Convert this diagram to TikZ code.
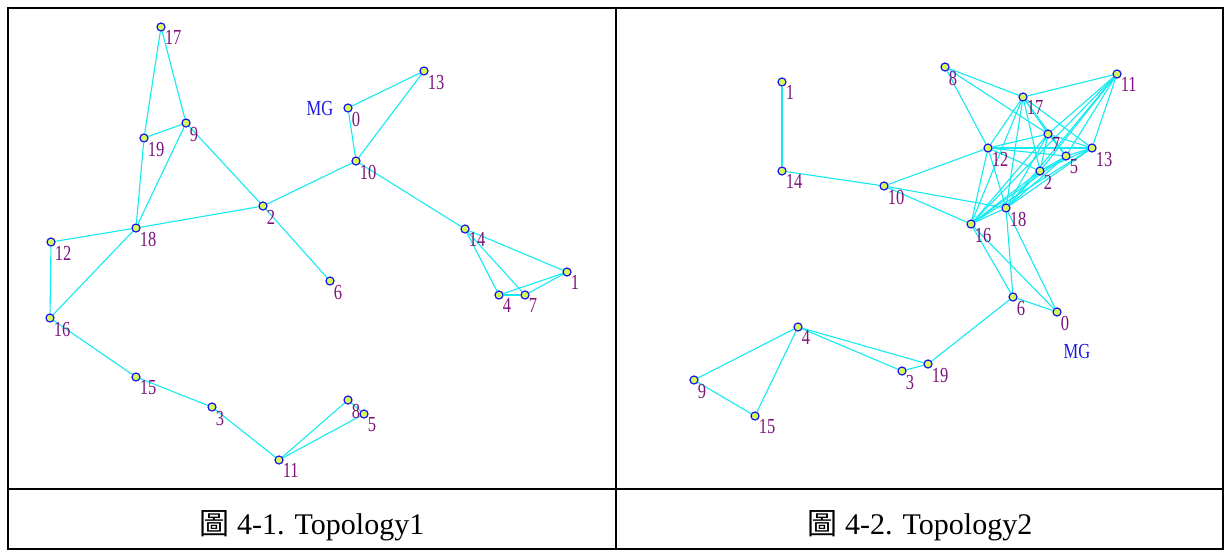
\documentclass[tikz,border=0pt]{standalone}
\usepackage{fontspec}
\setmainfont{Liberation Serif}
\newfontfamily\cjkfont{Noto Sans CJK TC}
\usetikzlibrary{backgrounds}
\definecolor{edgecyan}{RGB}{20,235,240}
\definecolor{moteblue}{RGB}{20,20,240}
\definecolor{motefill}{RGB}{215,250,90}
\definecolor{lblpurple}{RGB}{125,20,125}
\definecolor{mgblue}{RGB}{25,25,225}
\newcommand\nlab[1]{\scalebox{1}[1.3]{#1}}
\tikzset{
  edge/.style={draw=edgecyan, line width=1.1pt},
  mote/.style={circle, draw=moteblue, fill=motefill, line width=1.2pt, minimum size=8pt, inner sep=0pt},
  lbl/.style={text=lblpurple, font=\fontsize{16.5}{16.5}\selectfont, inner sep=0pt, label distance=0.5pt},
  mglbl/.style={text=mgblue, font=\fontsize{16.5}{16.5}\selectfont, inner sep=0pt},
  caption/.style={font=\fontsize{30}{30}\selectfont, inner sep=0pt, anchor=base},
  frame/.style={draw=black, line width=2pt},
}
\newcommand\mote[4]{\node[mote, label={[lbl]below right:\nlab{#4}}] (#1) at (#2,#3) {};}
\begin{document}
\begin{tikzpicture}[x=1pt,y=-1pt]
\useasboundingbox (0,0) rectangle (1230,558);
\begin{scope}[on background layer]
\fill[white] (0,0) rectangle (1230,558);
\end{scope}
% table frame
\draw[frame] (8,8) rectangle (1223,549);
\draw[frame] (616,8) -- (616,549);
\draw[frame] (8,489) -- (1223,489);
% ---------------- Topology 1 ----------------
\mote{L0}{348}{108}{0}
\mote{L1}{567}{272}{1}
\mote{L2}{263}{206}{2}
\mote{L3}{212}{407}{3}
\mote{L4}{499}{295}{4}
\mote{L5}{364}{414}{5}
\mote{L6}{330}{281}{6}
\mote{L7}{525}{295}{7}
\mote{L8}{348}{400}{8}
\mote{L9}{186}{123}{9}
\mote{L10}{356}{161}{10}
\mote{L11}{279}{460}{11}
\mote{L12}{51}{242}{12}
\mote{L13}{424}{71}{13}
\mote{L14}{465}{229}{14}
\mote{L15}{136}{377}{15}
\mote{L16}{50}{318}{16}
\mote{L17}{161}{27}{17}
\mote{L18}{136}{228}{18}
\mote{L19}{144}{138}{19}
\node[mglbl] (LMG) at (320,108) {\nlab{MG}};
\begin{scope}[on background layer]
\foreach \a/\b in {17/19,17/9,19/9,19/18,9/18,9/2,18/2,18/12,18/16,12/16,2/10,2/6,
  10/0,10/13,0/13,10/14,14/1,14/4,14/7,4/7,4/1,7/1,16/15,15/3,3/11,11/8,11/5,8/5}
  \draw[edge] (L\a) -- (L\b);
\end{scope}
\node[caption] (C1) at (312,534) {{\cjkfont 圖} 4-1. Topology1};
% ---------------- Topology 2 ----------------
\mote{R0}{1057}{312}{0}
\mote{R1}{782}{82}{1}
\mote{R2}{1040}{171}{2}
\mote{R3}{902}{371}{3}
\mote{R4}{798}{327}{4}
\mote{R5}{1066}{156}{5}
\mote{R6}{1013}{297}{6}
\mote{R7}{1048}{134}{7}
\mote{R8}{945}{67}{8}
\mote{R9}{694}{380}{9}
\mote{R10}{884}{186}{10}
\mote{R11}{1117}{74}{11}
\mote{R12}{988}{148}{12}
\mote{R13}{1092}{148}{13}
\mote{R14}{782}{171}{14}
\mote{R15}{755}{416}{15}
\mote{R16}{971}{224}{16}
\mote{R17}{1023}{97}{17}
\mote{R18}{1006}{208}{18}
\mote{R19}{928}{364}{19}
\node[mglbl] (RMG) at (1077,351) {\nlab{MG}};
\begin{scope}[on background layer]
\foreach \a/\b in {1/14,14/10,10/12,10/18,10/16,
  8/17,8/12,8/7,
  11/17,11/7,11/13,11/5,11/2,11/18,11/16,
  17/12,17/7,17/13,17/5,17/2,17/18,17/16,
  12/7,12/13,12/5,12/2,12/18,12/16,
  7/13,7/5,7/2,7/18,7/16,
  13/5,13/2,13/18,13/16,
  5/2,5/18,5/16,
  2/18,2/16,
  18/16,18/6,18/0,16/6,16/0,
  6/0,6/19,19/4,19/3,3/4,4/9,4/15,9/15}
  \draw[edge] (R\a) -- (R\b);
\end{scope}
\node[caption] (C2) at (920,534) {{\cjkfont 圖} 4-2. Topology2};
\end{tikzpicture}
\end{document}
